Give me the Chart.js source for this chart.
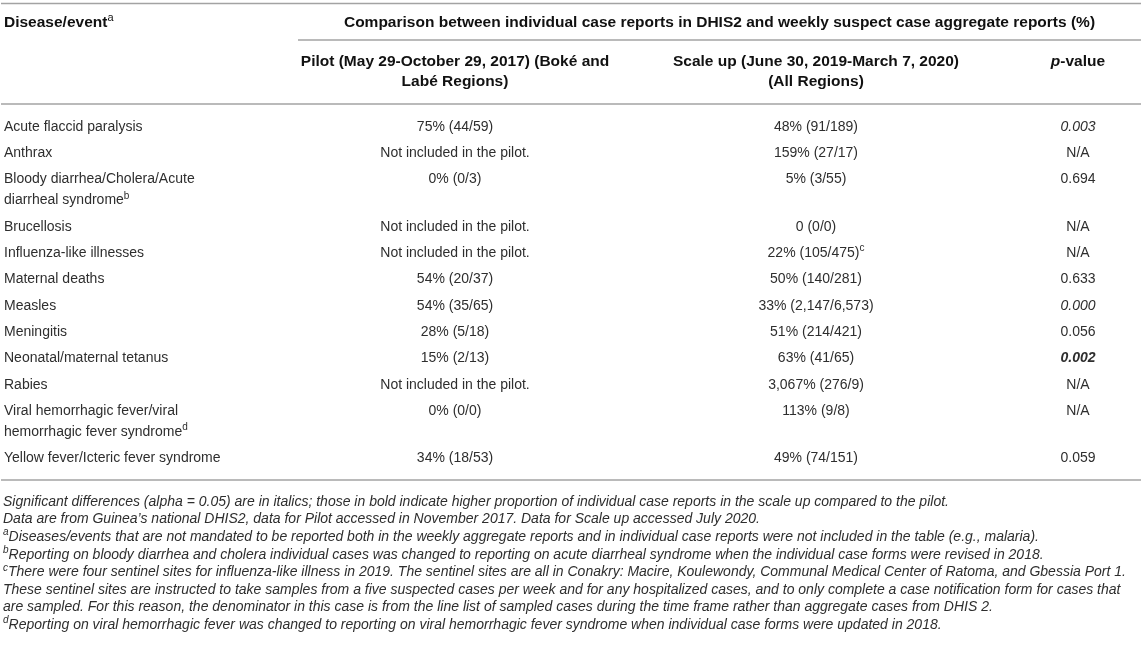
<!DOCTYPE html>
<html>
<head>
<meta charset="utf-8">
<title>DHIS2 case report comparison</title>
<script src="https://cdn.jsdelivr.net/npm/chart.js@4.4.1/dist/chart.umd.min.js"></script>
<style>
  html, body { margin: 0; padding: 0; background: #fff; }
  canvas { display: block; }
</style>
</head>
<body>
<canvas id="tableChart" width="1146" height="650"></canvas>
<script>
// ---- table data ----
const diseases = [
  'Acute flaccid paralysis',
  'Anthrax',
  'Bloody diarrhea/Cholera/Acute\ndiarrheal syndrome^b',
  'Brucellosis',
  'Influenza-like illnesses',
  'Maternal deaths',
  'Measles',
  'Meningitis',
  'Neonatal/maternal tetanus',
  'Rabies',
  'Viral hemorrhagic fever/viral\nhemorrhagic fever syndrome^d',
  'Yellow fever/Icteric fever syndrome'
];
const pilotValues = [
  '75% (44/59)', 'Not included in the pilot.', '0% (0/3)', 'Not included in the pilot.',
  'Not included in the pilot.', '54% (20/37)', '54% (35/65)', '28% (5/18)',
  '15% (2/13)', 'Not included in the pilot.', '0% (0/0)', '34% (18/53)'
];
const scaleUpValues = [
  '48% (91/189)', '159% (27/17)', '5% (3/55)', '0 (0/0)',
  '22% (105/475)^c', '50% (140/281)', '33% (2,147/6,573)', '51% (214/421)',
  '63% (41/65)', '3,067% (276/9)', '113% (9/8)', '49% (74/151)'
];
const pValues = [
  '0.003', 'N/A', '0.694', 'N/A', 'N/A', '0.633',
  '0.000', '0.056', '0.002', 'N/A', 'N/A', '0.059'
];
const pEmphasis = [
  'italic', '', '', '', '', '', 'italic', '', 'italic bold', '', '', ''
];
const groupHeader = 'Comparison between individual case reports in DHIS2 and weekly suspect case aggregate reports (%)';
const firstHeader = 'Disease/event^a';
const pilotHeader = 'Pilot (May 29-October 29, 2017) (Boké and\nLabé Regions)';
const scaleHeader = 'Scale up (June 30, 2019-March 7, 2020)\n(All Regions)';
const footnotes = [
  'Significant differences (alpha = 0.05) are in italics; those in bold indicate higher proportion of individual case reports in the scale up compared to the pilot.',
  'Data are from Guinea’s national DHIS2, data for Pilot accessed in November 2017. Data for Scale up accessed July 2020.',
  '^aDiseases/events that are not mandated to be reported both in the weekly aggregate reports and in individual case reports were not included in the table (e.g., malaria).',
  '^bReporting on bloody diarrhea and cholera individual cases was changed to reporting on acute diarrheal syndrome when the individual case forms were revised in 2018.',
  '^cThere were four sentinel sites for influenza-like illness in 2019. The sentinel sites are all in Conakry: Macire, Koulewondy, Communal Medical Center of Ratoma, and Gbessia Port 1.',
  'These sentinel sites are instructed to take samples from a five suspected cases per week and for any hospitalized cases, and to only complete a case notification form for cases that',
  'are sampled. For this reason, the denominator in this case is from the line list of sampled cases during the time frame rather than aggregate cases from DHIS 2.',
  '^dReporting on viral hemorrhagic fever was changed to reporting on viral hemorrhagic fever syndrome when individual case forms were updated in 2018.'
];

// ---- layout (pixels on the chart scales) ----
const W = 1146, H = 650;
const FONT = '"Liberation Sans", Arial, Helvetica, sans-serif';
const COL = { disease: 4, pilot: 455, scale: 816, p: 1078 };
const RULE_L = 1, RULE_R = 1141, GROUP_L = 298;
const ROW_TOP = 127, ROW_PITCH = 26.3, LINE_EXTRA = 21;
const FOOT_TOP = 502, FOOT_PITCH = 17.6;
const HEAD_SIZE = 15.5, BODY_SIZE = 14, FOOT_SIZE = 14;

// y position of each row, from the number of lines in the disease name
const rowY = [];
let yy = ROW_TOP;
diseases.forEach(d => {
  rowY.push(yy);
  yy += ROW_PITCH + (d.split('\n').length - 1) * LINE_EXTRA;
});

function drawRich(ctx, str, x, y, align, size, style, color) {
  const parts = str.split(/\^(\w)/);
  const supSize = Math.round(size * 0.68);
  const fontOf = i => (i % 2 ? style.replace('bold', '') + ' ' + supSize + 'px ' + FONT
                             : style + ' ' + size + 'px ' + FONT);
  let total = 0;
  parts.forEach((p, i) => { ctx.font = fontOf(i); total += ctx.measureText(p).width; });
  let cx = align === 'center' ? x - total / 2 : (align === 'right' ? x - total : x);
  ctx.fillStyle = color;
  ctx.textAlign = 'left';
  ctx.textBaseline = 'middle';
  parts.forEach((p, i) => {
    ctx.font = fontOf(i);
    ctx.fillText(p, cx, i % 2 ? y - size * 0.33 : y);
    cx += ctx.measureText(p).width;
  });
}

function drawLines(ctx, str, x, y, align, size, style, color, lh) {
  str.split('\n').forEach((ln, k) => drawRich(ctx, ln, x, y + k * lh, align, size, style, color));
}

const cols = [
  { key: 'disease', values: diseases, align: 'left' },
  { key: 'pilot', values: pilotValues, align: 'center' },
  { key: 'scale', values: scaleUpValues, align: 'center' },
  { key: 'p', values: pValues, align: 'center', emphasis: pEmphasis }
];

const tablePlugin = {
  id: 'tableText',
  afterDatasetsDraw(chart) {
    const ctx = chart.ctx;
    const xs = chart.scales.x, ys = chart.scales.y;
    const px = v => xs.getPixelForValue(v), py = v => ys.getPixelForValue(v);
    ctx.save();

    // rules
    ctx.strokeStyle = '#a3a3a3';
    ctx.lineWidth = 1.5;
    [[RULE_L, 3.5], [GROUP_L, 40], [RULE_L, 104], [RULE_L, 480]].forEach(([x0, y0]) => {
      ctx.beginPath();
      ctx.moveTo(px(x0), py(y0));
      ctx.lineTo(px(RULE_R), py(y0));
      ctx.stroke();
    });

    // header
    const hc = '#111';
    drawRich(ctx, firstHeader, px(COL.disease), py(23), 'left', HEAD_SIZE, 'bold', hc);
    drawRich(ctx, groupHeader, px((GROUP_L + RULE_R) / 2), py(23), 'center', HEAD_SIZE, 'bold', hc);
    drawLines(ctx, pilotHeader, px(COL.pilot), py(62), 'center', HEAD_SIZE, 'bold', hc, 19.5);
    drawLines(ctx, scaleHeader, px(COL.scale), py(62), 'center', HEAD_SIZE, 'bold', hc, 19.5);
    ctx.font = 'italic bold ' + HEAD_SIZE + 'px ' + FONT;
    const wp = ctx.measureText('p').width;
    ctx.font = 'bold ' + HEAD_SIZE + 'px ' + FONT;
    const wv = ctx.measureText('-value').width;
    const x0 = px(COL.p) - (wp + wv) / 2;
    drawRich(ctx, 'p', x0, py(62), 'left', HEAD_SIZE, 'italic bold', hc);
    drawRich(ctx, '-value', x0 + wp, py(62), 'left', HEAD_SIZE, 'bold', hc);

    // body cells at the dataset points
    chart.data.datasets.forEach((ds, di) => {
      const c = cols[di];
      chart.getDatasetMeta(di).data.forEach((pt, i) => {
        const style = c.emphasis ? c.emphasis[i] : '';
        drawLines(ctx, c.values[i], pt.x, pt.y, c.align, BODY_SIZE, style, '#2e2e2e', LINE_EXTRA);
      });
    });

    // footnotes
    footnotes.forEach((f, i) => {
      drawRich(ctx, f, px(3), py(FOOT_TOP + i * FOOT_PITCH), 'left', FOOT_SIZE, 'italic', '#2e2e2e');
    });
    ctx.restore();
  }
};

new Chart(document.getElementById('tableChart'), {
  type: 'scatter',
  data: {
    datasets: cols.map(c => ({
      label: c.key,
      data: c.values.map((v, i) => ({ x: COL[c.key], y: rowY[i] })),
      pointRadius: 0,
      pointHoverRadius: 0
    }))
  },
  options: {
    responsive: false,
    animation: false,
    devicePixelRatio: 1,
    layout: { padding: 0 },
    plugins: { legend: { display: false }, tooltip: { enabled: false } },
    events: [],
    scales: {
      x: { type: 'linear', min: 0, max: W, display: false },
      y: { type: 'linear', min: 0, max: H, reverse: true, display: false }
    }
  },
  plugins: [tablePlugin]
});
</script>
</body>
</html>
